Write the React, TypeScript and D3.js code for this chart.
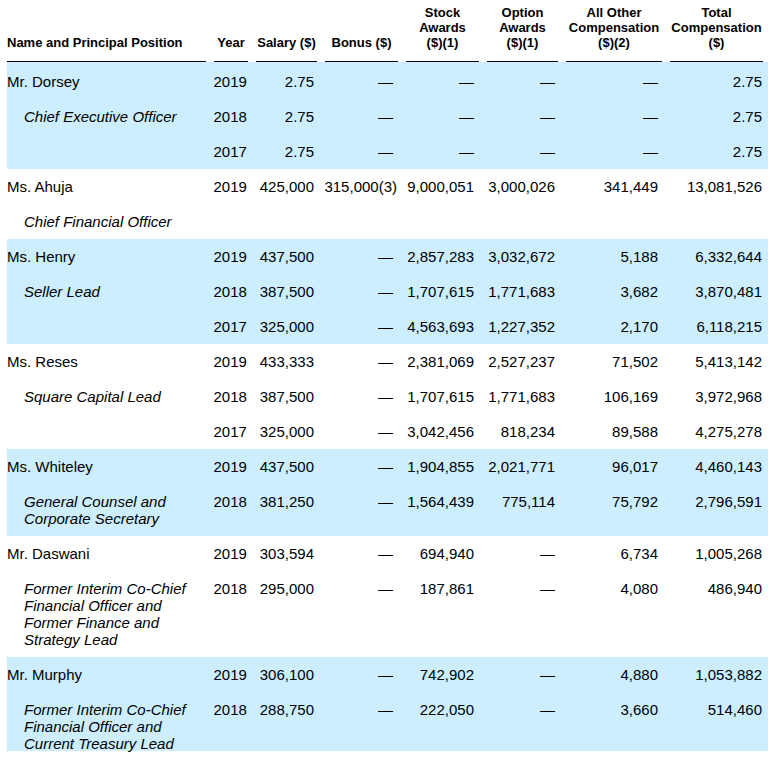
import React from "react";
import * as d3 from "d3";

// ---- data ----
const columnHeaders: string[][] = [
  ["Name and Principal Position"],
  ["Year"],
  ["Salary ($)"],
  ["Bonus ($)"],
  ["Stock", "Awards", "($)(1)"],
  ["Option", "Awards", "($)(1)"],
  ["All Other", "Compensation", "($)(2)"],
  ["Total", "Compensation", "($)"],
];

const names = ["Mr. Dorsey", "Ms. Ahuja", "Ms. Henry", "Ms. Reses", "Ms. Whiteley", "Mr. Daswani", "Mr. Murphy"];

const positions: string[][] = [
  ["Chief Executive Officer"],
  ["Chief Financial Officer"],
  ["Seller Lead"],
  ["Square Capital Lead"],
  ["General Counsel and", "Corporate Secretary"],
  ["Former Interim Co-Chief", "Financial Officer and", "Former Finance and", "Strategy Lead"],
  ["Former Interim Co-Chief", "Financial Officer and", "Current Treasury Lead"],
];

const years: number[][] = [
  [2019, 2018, 2017],
  [2019],
  [2019, 2018, 2017],
  [2019, 2018, 2017],
  [2019, 2018],
  [2019, 2018],
  [2019, 2018],
];

const salary: (number | null)[][] = [
  [2.75, 2.75, 2.75],
  [425000],
  [437500, 387500, 325000],
  [433333, 387500, 325000],
  [437500, 381250],
  [303594, 295000],
  [306100, 288750],
];

const bonus: (number | null)[][] = [
  [null, null, null],
  [315000],
  [null, null, null],
  [null, null, null],
  [null, null],
  [null, null],
  [null, null],
];

const bonusNotes: (string | null)[][] = [
  [null, null, null],
  ["(3)"],
  [null, null, null],
  [null, null, null],
  [null, null],
  [null, null],
  [null, null],
];

const stockAwards: (number | null)[][] = [
  [null, null, null],
  [9000051],
  [2857283, 1707615, 4563693],
  [2381069, 1707615, 3042456],
  [1904855, 1564439],
  [694940, 187861],
  [742902, 222050],
];

const optionAwards: (number | null)[][] = [
  [null, null, null],
  [3000026],
  [3032672, 1771683, 1227352],
  [2527237, 1771683, 818234],
  [2021771, 775114],
  [null, null],
  [null, null],
];

const otherComp: (number | null)[][] = [
  [null, null, null],
  [341449],
  [5188, 3682, 2170],
  [71502, 106169, 89588],
  [96017, 75792],
  [6734, 4080],
  [4880, 3660],
];

const totalComp: (number | null)[][] = [
  [2.75, 2.75, 2.75],
  [13081526],
  [6332644, 3870481, 6118215],
  [5413142, 3972968, 4275278],
  [4460143, 2796591],
  [1005268, 486940],
  [1053882, 514460],
];

// ---- layout ----
const W = 768;
const H = 758;
const FONT = "Arial, 'Liberation Sans', sans-serif";
const BLUE = "#cceeff";
const colX0 = [7, 214, 256, 325, 406, 487, 566, 670];
const colX1 = [206, 248, 317, 398, 479, 558, 662, 763];
const valueAnchor = [314, 393, 474, 555, 658, 762];
const headerLineY = 61.5;
const bodyTop = 64;
const rowH = 35;
const lineH = 17;
const baseOff = 23;

const fmt = d3.format(",");
const fmtVal = (v: number | null) => (v == null ? "—" : fmt(v));

type Row = { top: number; height: number; exec: number; idx: number };

export default function App() {
  // build rows
  const rows: Row[] = [];
  const groups: { exec: number; top: number; bottom: number }[] = [];
  let y = bodyTop;
  names.forEach((_, e) => {
    const n = Math.max(years[e].length, 2);
    const gTop = y;
    for (let i = 0; i < n; i++) {
      const h = i === 1 ? rowH + lineH * (positions[e].length - 1) : rowH;
      rows.push({ top: y, height: h, exec: e, idx: i });
      y += h;
    }
    groups.push({ exec: e, top: gTop, bottom: y });
  });
  // first band extends up to header rule; last band ends just below its text
  const lastRow = rows[rows.length - 1];
  const lastBottom =
    lastRow.top + baseOff + lineH * (positions[lastRow.exec].length - 1) + 2;

  const valueCols = [salary, bonus, stockAwards, optionAwards, otherComp, totalComp];

  return (
    <svg
      width={W}
      height={H}
      style={{ position: "absolute", left: 0, top: 0, background: "#fff" }}
      fontFamily={FONT}
    >
      {/* bands */}
      {groups
        .filter((g) => g.exec % 2 === 0)
        .map((g, i) => {
          const top = g.exec === 0 ? headerLineY + 0.5 : g.top;
          const bottom = g.exec === names.length - 1 ? lastBottom : g.bottom;
          return <rect key={i} x={7} y={top} width={W - 7} height={bottom - top} fill={BLUE} />;
        })}

      {/* header */}
      {columnHeaders.map((lines, c) => {
        const cx = c === 0 ? colX0[0] : (colX0[c] + colX1[c]) / 2;
        return (
          <g key={c}>
            {lines.map((t, k) => (
              <text
                key={k}
                x={cx}
                y={47 - (lines.length - 1 - k) * 15}
                fontSize={13}
                fontWeight="bold"
                textAnchor={c === 0 ? "start" : "middle"}
                fill="#000"
              >
                {t}
              </text>
            ))}
            <line x1={colX0[c]} x2={colX1[c]} y1={headerLineY} y2={headerLineY} stroke="#000" strokeWidth={1} />
          </g>
        );
      })}

      {/* body */}
      {rows.map((r, ri) => {
        const e = r.exec;
        const by = r.top + baseOff;
        const hasData = r.idx < years[e].length;
        return (
          <g key={ri} fontSize={15} fill="#000">
            {r.idx === 0 && (
              <text x={7} y={by}>
                {names[e]}
              </text>
            )}
            {r.idx === 1 &&
              positions[e].map((t, k) => (
                <text key={k} x={24} y={by + k * lineH} fontStyle="italic">
                  {t}
                </text>
              ))}
            {hasData && (
              <text x={213.5} y={by}>
                {years[e][r.idx]}
              </text>
            )}
            {hasData &&
              valueCols.map((col, c) => {
                const v = col[e][r.idx];
                const note = c === 1 ? bonusNotes[e][r.idx] : null;
                return (
                  <text key={c} x={valueAnchor[c] + (note ? 4 : 0)} y={by} textAnchor="end">
                    {fmtVal(v) + (note || "")}
                  </text>
                );
              })}
          </g>
        );
      })}
    </svg>
  );
}
